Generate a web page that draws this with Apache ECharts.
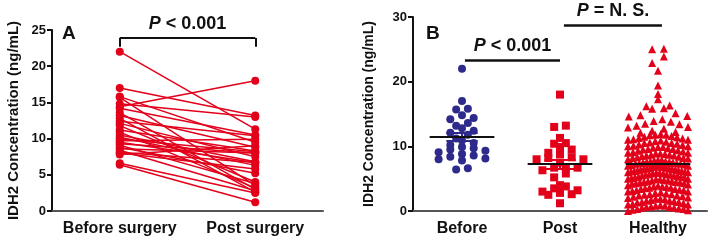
<!DOCTYPE html>
<html>
<head>
<meta charset="utf-8">
<script src="https://cdn.jsdelivr.net/npm/echarts@6/dist/echarts.min.js"></script>
<style>
  html, body { margin: 0; padding: 0; background: #fff; }
  #chart { width: 709px; height: 243px; }
</style>
</head>
<body>
<div id="chart"></div>
<script>
  // categories
  const pairCategories = ['Before surgery', 'Post surgery']
  const groupCategories = ['Before', 'Post', 'Healthy']

  // paired patient values (ng/mL), same order in both arrays
  const beforeValues = [22, 17, 15.8, 15.7, 14.8, 14.4, 14.2, 13.6, 13.2, 12.8,
    12.4, 12.1, 11.8, 11.2, 10.9, 10.2, 9.9, 9.7, 9.5, 9.3,
    9.1, 8.8, 8.6, 8.4, 8.1, 8.0, 7.8, 6.6, 6.4, 10.5]
  const postValues = [11.3, 13.2, 9.5, 3.5, 13.0, 18, 10.5, 3.0, 8.8, 2.6,
    10.4, 7.5, 4.0, 8.3, 3.2, 6.3, 8.2, 9.9, 6.7, 8.0,
    3.8, 5.2, 8.0, 2.8, 6.7, 5.8, 9.0, 2.5, 1.2, 6.8]

  // healthy controls (ng/mL)
  const healthyValues = [
    25.0, 25.1, 23.9, 22.9, 21.7, 19.4, 18.1, 17.3, 16.3, 16.2, 15.8, 15.9, 15.1, 14.8, 14.7, 14.6, 14.2, 13.9, 13.8, 13.5,
    13.4, 13.2, 13.0, 12.9, 12.7,
    12.4, 12.1, 11.9, 11.8, 11.6, 11.5, 11.3, 11.2, 11.0, 10.9, 10.8, 10.6, 10.5, 10.4, 10.3, 10.1, 10.0, 9.9, 9.8, 9.6,
    12.2, 11.7, 11.4, 11.1, 10.7, 10.2, 9.9, 9.7, 9.5, 9.4, 9.3, 9.1, 9.0, 8.9, 8.8, 8.7, 8.6, 8.5, 8.3, 8.2,
    11.8, 11.0, 10.5, 10.0, 9.6, 9.2, 8.9, 8.6, 8.4, 8.1, 8.0, 7.9, 7.8, 7.7, 7.6, 7.5, 7.4, 7.3, 7.2, 7.1,
    7.9, 7.7, 7.5, 7.3, 7.0, 6.9, 6.8, 6.7, 6.6, 6.5, 6.4, 6.3, 6.2, 6.1, 6.0, 5.9, 5.8, 5.7, 5.6, 5.5,
    7.0, 6.8, 6.6, 6.4, 6.2, 6.0, 5.8, 5.4, 5.3, 5.2, 5.1, 5.0, 4.9, 4.8, 4.7, 4.6, 4.5, 4.4, 4.3, 4.2,
    6.9, 6.5, 6.1, 5.7, 5.3, 4.9, 4.5, 4.1, 4.0, 3.9, 3.8, 3.7, 3.6, 3.5, 3.4, 3.3, 3.2, 3.1, 3.0, 2.9,
    5.6, 5.0, 4.4, 3.8, 3.2, 2.8, 2.7, 2.6, 2.5, 2.4, 2.3, 2.2, 2.1, 2.0, 1.9, 1.8, 1.7, 1.6, 1.5, 1.4,
    4.6, 3.6, 2.6, 1.9, 1.3, 1.2, 1.1, 1.0, 0.9, 0.8, 0.7, 0.6, 0.5, 0.4, 0.3, 0.2, 0.1, 0.0, 0.5, 1.0,
    9.0, 8.2, 7.4, 6.6, 5.9, 5.2, 4.3, 3.4, 2.4, 1.6, 0.8, 0.3, 0.6, 1.4, 8.7, 7.6, 6.3, 5.5, 4.7, 3.0
  ]

  const yTicksA = { min: 0, max: 25, interval: 5 }
  const yTicksB = { min: 0, max: 30, interval: 10 }

  const RED = '#e2001a'
  const BLUE = '#2e2a8c'
  const FONT = 'Liberation Sans, Arial, sans-serif'

  const chart = echarts.init(document.getElementById('chart'), null, { renderer: 'canvas' })

  // pixels per unit on the hidden x value axis of panel B (3 units across the grid)
  const gridB = { left: 413, right: 2, top: 17, bottom: 32 }
  const pxPerUnit = (709 - gridB.left - gridB.right) / 3

  // column-scatter layout: points in the same value band are spread sideways.
  // sparse values (above `sparseFrom`) use taller bands so they spread out too
  function swarm(values, group, binH, stepPx, maxPx, sparseFrom, sparseH) {
    const bins = {}
    values.forEach((v) => {
      const k = v >= sparseFrom ? 's' + Math.floor(v / sparseH) : 'd' + Math.floor(v / binH)
      ;(bins[k] = bins[k] || []).push(v)
    })
    const out = []
    Object.keys(bins).forEach((k) => {
      const list = bins[k].slice().sort((a, b) => a - b)
      const n = list.length
      let step = stepPx
      if ((n - 1) * step > 2 * maxPx) step = (2 * maxPx) / (n - 1)
      // interleave so neighbouring values do not form a diagonal
      const order = []
      for (let i = 0; i < n; i++) order.push(i % 2 === 0 ? i / 2 : n - 1 - (i - 1) / 2)
      list.forEach((v, i) => {
        out.push([group + ((order[i] - (n - 1) / 2) * step) / pxPerUnit, v])
      })
    })
    return out
  }

  function stats(values) {
    const n = values.length
    const mean = values.reduce((a, b) => a + b, 0) / n
    const sd = Math.sqrt(values.reduce((a, b) => a + (b - mean) * (b - mean), 0) / (n - 1))
    return { mean, sem: sd / Math.sqrt(n) }
  }

  function meanLines(values, group, color) {
    const s = stats(values)
    const hw = 0.33
    const ew = 0.16
    const sem = { color, width: 2, type: 'solid' }
    return {
      silent: true,
      symbol: ['none', 'none'],
      label: { show: false },
      lineStyle: { type: 'solid' },
      data: [
        [{ coord: [group - ew, s.mean + s.sem], lineStyle: sem }, { coord: [group + ew, s.mean + s.sem] }],
        [{ coord: [group - ew, s.mean - s.sem], lineStyle: sem }, { coord: [group + ew, s.mean - s.sem] }],
        [{ coord: [group, s.mean - s.sem], lineStyle: sem }, { coord: [group, s.mean + s.sem] }],
        [{ coord: [group - hw, s.mean], lineStyle: { color: '#111', width: 2, type: 'solid' } }, { coord: [group + hw, s.mean] }]
      ]
    }
  }

  const pLabel = (text) => ({
    show: true,
    position: 'insideMiddleTop',
    distance: 5,
    formatter: text,
    rich: {
      i: { fontStyle: 'italic', fontWeight: 'bold', fontSize: 18, fontFamily: FONT, color: '#111' },
      t: { fontWeight: 'bold', fontSize: 18, fontFamily: FONT, color: '#111' }
    }
  })

  const axisNameStyle = (size) => ({ fontWeight: 'bold', fontSize: size, fontFamily: FONT, color: '#111' })

  // panel A: one line per patient
  const pairSeries = beforeValues.map((b, i) => ({
    type: 'line',
    xAxisIndex: 0,
    yAxisIndex: 0,
    data: [b, postValues[i]],
    symbol: 'circle',
    symbolSize: 8,
    itemStyle: { color: RED },
    lineStyle: { color: RED, width: 1.5 },
    silent: true
  }))
  pairSeries[0].markLine = {
    silent: true,
    symbol: ['none', 'none'],
    lineStyle: { color: '#111', width: 2, type: 'solid' },
    data: [
      [{ coord: [0, 23.9], label: pLabel('{i|P}{t| < 0.001}') }, { coord: [1, 23.9] }],
      [{ coord: [0, 23.9], label: { show: false } }, { coord: [0, 22.7] }],
      [{ coord: [1, 23.9], label: { show: false } }, { coord: [1, 22.7] }]
    ]
  }

  const beforeSeries = {
    type: 'scatter',
    xAxisIndex: 2,
    yAxisIndex: 1,
    symbol: 'circle',
    symbolSize: 8,
    itemStyle: { color: BLUE, opacity: 1 },
    data: swarm(beforeValues, 0, 1, 11.7, 26, 99, 1),
    markLine: meanLines(beforeValues, 0, BLUE),
    silent: true
  }
  const postSeries = {
    type: 'scatter',
    xAxisIndex: 2,
    yAxisIndex: 1,
    symbol: 'rect',
    symbolSize: 8,
    itemStyle: { color: RED, opacity: 1 },
    data: swarm(postValues, 1, 1, 11.7, 30, 99, 1),
    markLine: meanLines(postValues, 1, RED),
    silent: true
  }
  const barStyle = { color: '#111', width: 2.5, type: 'solid' }
  postSeries.markLine.data.push(
    [{ coord: [0.03, 23.3], lineStyle: barStyle, label: pLabel('{i|P}{t| < 0.001}') }, { coord: [1.0, 23.3] }],
    [{ coord: [1.04, 28.7], lineStyle: barStyle, label: pLabel('{i|P}{t| = N. S.}') }, { coord: [2.04, 28.7] }]
  )
  const healthySeries = {
    type: 'scatter',
    xAxisIndex: 2,
    yAxisIndex: 1,
    symbol: 'triangle',
    symbolSize: 8,
    itemStyle: { color: RED, opacity: 1 },
    data: swarm(healthyValues, 2, 1, 11.7, 30, 12.8, 1.6),
    markLine: meanLines(healthyValues, 2, RED),
    silent: true
  }

  const catLabel = { margin: 10, interval: 0, fontWeight: 'bold', fontSize: 16, fontFamily: FONT, color: '#111' }
  const valLabel = { margin: 6, fontWeight: 'bold', fontSize: 13, fontFamily: FONT, color: '#111' }

  const option = {
    animation: false,
    backgroundColor: '#fff',
    title: [
      { text: 'A', left: 57, top: 19, textStyle: { fontWeight: 'bold', fontSize: 19, fontFamily: FONT, color: '#111' } },
      { text: 'B', left: 421, top: 19, textStyle: { fontWeight: 'bold', fontSize: 19, fontFamily: FONT, color: '#111' } }
    ],
    grid: [
      { left: 52, right: 386, top: 30, bottom: 32 },
      gridB
    ],
    xAxis: [
      {
        gridIndex: 0,
        type: 'category',
        data: pairCategories,
        boundaryGap: true,
        axisLine: { lineStyle: { color: '#555', width: 2 } },
        axisTick: { alignWithLabel: true, length: 5, lineStyle: { color: '#111', width: 2 } },
        axisLabel: catLabel,
        splitLine: { show: false }
      },
      {
        gridIndex: 1,
        type: 'category',
        data: groupCategories,
        boundaryGap: true,
        axisLine: { lineStyle: { color: '#555', width: 2 } },
        axisTick: { alignWithLabel: true, length: 5, lineStyle: { color: '#111', width: 2 } },
        axisLabel: catLabel,
        splitLine: { show: false }
      },
      {
        gridIndex: 1,
        type: 'value',
        min: -0.5,
        max: 2.5,
        show: false
      }
    ],
    yAxis: [
      {
        gridIndex: 0,
        type: 'value',
        min: yTicksA.min,
        max: yTicksA.max,
        interval: yTicksA.interval,
        name: 'IDH2 Concentration (ng/mL)',
        nameLocation: 'middle',
        nameGap: 31,
        nameTextStyle: axisNameStyle(15),
        axisLine: { show: true, onZero: false, lineStyle: { color: '#111', width: 2 } },
        axisTick: { show: true, length: 5, lineStyle: { color: '#111', width: 2 } },
        axisLabel: valLabel,
        splitLine: { show: false }
      },
      {
        gridIndex: 1,
        type: 'value',
        min: yTicksB.min,
        max: yTicksB.max,
        interval: yTicksB.interval,
        name: 'IDH2 Concentration (ng/mL)',
        nameLocation: 'middle',
        nameGap: 37,
        nameTextStyle: axisNameStyle(14),
        axisLine: { show: true, onZero: false, lineStyle: { color: '#111', width: 2 } },
        axisTick: { show: true, length: 5, lineStyle: { color: '#111', width: 2 } },
        axisLabel: valLabel,
        splitLine: { show: false }
      }
    ],
    series: [...pairSeries, healthySeries, postSeries, beforeSeries]
  }

  chart.setOption(option)
</script>
</body>
</html>
